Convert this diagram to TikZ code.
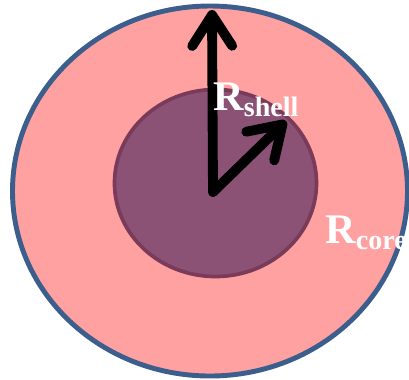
\documentclass[tikz,border=0pt]{standalone}
\usepackage{fontspec}
\setmainfont{Liberation Serif}
\usepackage{xcolor}
\usetikzlibrary{arrows.meta}
\definecolor{shellpink}{RGB}{255,161,161}
\definecolor{shellblue}{RGB}{59,94,140}
\definecolor{corefill}{RGB}{139,82,118}
\definecolor{coreline}{RGB}{122,58,90}
\tikzset{
  radius arrow/.style={line width=5.6pt,line cap=round,
    -{Straight Barb[length=0.62cm,width=0.80cm,round]}},
  radius label/.style={text=white,font=\fontsize{24}{24}\selectfont\bfseries,
    anchor=base west,inner sep=0pt}
}
\newcommand{\rlabel}[1]{R\raisebox{-0.12cm}{\fontsize{16}{16}\selectfont #1}}
\begin{document}
\begin{tikzpicture}
  \useasboundingbox (-4.20,-3.76) rectangle (3.98,3.82);
  \filldraw[fill=shellpink,draw=shellblue,line width=2.8pt] (0,0) ellipse (3.95 and 3.70);
  \filldraw[fill=corefill,draw=coreline,line width=2.1pt] (0.11,0.16) ellipse (2.02 and 1.87);
  \coordinate (center) at (0.06,-0.02);
  \coordinate (shelltip) at (0.04,3.62);
  \coordinate (coretip) at (1.52,1.40);
  \draw[radius arrow] (center) -- (shelltip);
  \draw[radius arrow] (center) -- (coretip);
  \node[radius label] (shell) at (0.06,1.62) {\rlabel{shell}};
  \node[radius label] (core) at (2.30,-1.04) {\rlabel{core}};
\end{tikzpicture}
\end{document}
